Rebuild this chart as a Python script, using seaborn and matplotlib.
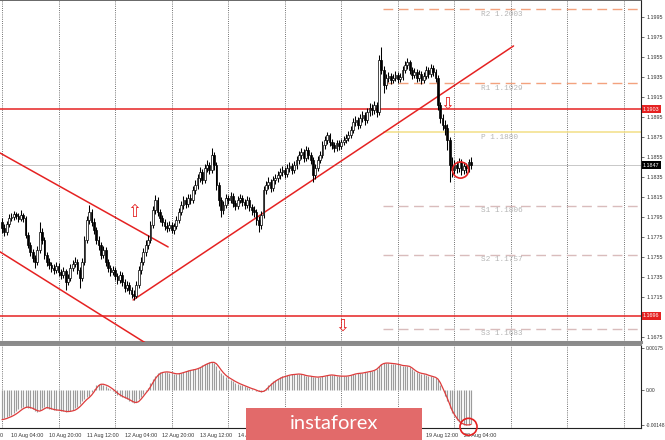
"""
EUR/USD H1 chart with pivot levels and MACD panel
"""
import numpy as np
import pandas as pd
import matplotlib
matplotlib.use("Agg")
import matplotlib.pyplot as plt
from matplotlib.patches import Rectangle
import seaborn as sns

# ---- price data (H1 bars) ----
first_open = 1.1790
closes = [
    1.1784, 1.1780, 1.1788, 1.1794, 1.1795, 1.1798, 1.1796, 1.1793, 1.1797, 1.1794,
    1.1777, 1.1767, 1.1760, 1.1754, 1.1750, 1.1762, 1.1780, 1.1772, 1.1757, 1.1750,
    1.1747, 1.1744, 1.1742, 1.1746, 1.1740, 1.1737, 1.1741, 1.1730, 1.1734, 1.1744,
    1.1748, 1.1750, 1.1742, 1.1734, 1.1750, 1.1772, 1.1792, 1.1800, 1.1790, 1.1782,
    1.1772, 1.1767, 1.1757, 1.1762, 1.1750, 1.1744, 1.1740, 1.1742, 1.1736, 1.1732,
    1.1737, 1.1730, 1.1724, 1.1727, 1.1722, 1.1718, 1.1716, 1.1727, 1.1742, 1.1750,
    1.1760, 1.1767, 1.1772, 1.1787, 1.1802, 1.1812, 1.1800, 1.1794, 1.1790, 1.1786,
    1.1784, 1.1787, 1.1782, 1.1786, 1.1792, 1.1800, 1.1807, 1.1812, 1.1808, 1.1814,
    1.1812, 1.1822, 1.1827, 1.1834, 1.1840, 1.1832, 1.1844, 1.1847, 1.1842, 1.1857,
    1.1847, 1.1827, 1.1812, 1.1802, 1.1807, 1.1814, 1.1812, 1.1816, 1.1809, 1.1806,
    1.1812, 1.1814, 1.1810, 1.1807, 1.1812, 1.1805, 1.1802, 1.1800, 1.1792, 1.1787,
    1.1797, 1.1822, 1.1827, 1.1830, 1.1824, 1.1832, 1.1834, 1.1837, 1.1840, 1.1842,
    1.1838, 1.1844, 1.1846, 1.1842, 1.1847, 1.1852, 1.1857, 1.1860, 1.1854, 1.1862,
    1.1857, 1.1852, 1.1837, 1.1844, 1.1852, 1.1857, 1.1867, 1.1872, 1.1877, 1.1870,
    1.1867, 1.1864, 1.1869, 1.1866, 1.1870, 1.1872, 1.1874, 1.1877, 1.1882, 1.1890,
    1.1892, 1.1887, 1.1894, 1.1897, 1.1892, 1.1900, 1.1904, 1.1902, 1.1907, 1.1900,
    1.1952, 1.1942, 1.1927, 1.1934, 1.1936, 1.1932, 1.1934, 1.1937, 1.1933, 1.1935,
    1.1942, 1.1947, 1.1950, 1.1942, 1.1937, 1.1940, 1.1934, 1.1938, 1.1932, 1.1936,
    1.1942, 1.1938, 1.1944, 1.1940, 1.1934, 1.1907, 1.1894, 1.1887, 1.1884, 1.1872,
    1.1847, 1.1842, 1.1847, 1.1844, 1.1850, 1.1842, 1.1846, 1.1844, 1.1850, 1.1847,
]
highs = [
    1.1794, 1.1788, 1.1791, 1.1798, 1.1799, 1.1801, 1.1800, 1.1799, 1.1802, 1.1799,
    1.1796, 1.1780, 1.1770, 1.1763, 1.1757, 1.1766, 1.1790, 1.1784, 1.1775, 1.1760,
    1.1754, 1.1750, 1.1748, 1.1750, 1.1749, 1.1743, 1.1745, 1.1743, 1.1738, 1.1748,
    1.1752, 1.1755, 1.1753, 1.1745, 1.1754, 1.1776, 1.1796, 1.1807, 1.1803, 1.1794,
    1.1785, 1.1776, 1.1770, 1.1766, 1.1765, 1.1753, 1.1747, 1.1746, 1.1745, 1.1739,
    1.1741, 1.1740, 1.1733, 1.1731, 1.1730, 1.1725, 1.1722, 1.1731, 1.1746, 1.1755,
    1.1764, 1.1772, 1.1777, 1.1791, 1.1806, 1.1817, 1.1815, 1.1803, 1.1797, 1.1793,
    1.1790, 1.1791, 1.1790, 1.1789, 1.1796, 1.1804, 1.1811, 1.1816, 1.1815, 1.1818,
    1.1818, 1.1826, 1.1832, 1.1838, 1.1845, 1.1843, 1.1848, 1.1852, 1.1850, 1.1864,
    1.1860, 1.1850, 1.1830, 1.1815, 1.1811, 1.1818, 1.1817, 1.1820, 1.1819, 1.1812,
    1.1816, 1.1818, 1.1817, 1.1813, 1.1816, 1.1815, 1.1808, 1.1806, 1.1803, 1.1796,
    1.1801, 1.1826, 1.1831, 1.1835, 1.1833, 1.1836, 1.1838, 1.1841, 1.1844, 1.1846,
    1.1845, 1.1848, 1.1850, 1.1849, 1.1851, 1.1856, 1.1861, 1.1864, 1.1863, 1.1866,
    1.1865, 1.1860, 1.1855, 1.1848, 1.1856, 1.1861, 1.1871, 1.1876, 1.1880, 1.1879,
    1.1873, 1.1870, 1.1872, 1.1872, 1.1873, 1.1876, 1.1878, 1.1881, 1.1886, 1.1894,
    1.1896, 1.1895, 1.1898, 1.1901, 1.1900, 1.1904, 1.1909, 1.1908, 1.1911, 1.1910,
    1.1957, 1.1965, 1.1946, 1.1938, 1.1940, 1.1939, 1.1938, 1.1941, 1.1940, 1.1939,
    1.1946, 1.1951, 1.1954, 1.1952, 1.1945, 1.1944, 1.1943, 1.1942, 1.1941, 1.1940,
    1.1946, 1.1945, 1.1948, 1.1947, 1.1943, 1.1937, 1.1910, 1.1898, 1.1892, 1.1888,
    1.1875, 1.1855, 1.1852, 1.1851, 1.1854, 1.1853, 1.1850, 1.1849, 1.1853, 1.1855,
]
lows = [
    1.1779, 1.1776, 1.1777, 1.1785, 1.1791, 1.1792, 1.1793, 1.1790, 1.1791, 1.1790,
    1.1774, 1.1764, 1.1756, 1.1750, 1.1744, 1.1747, 1.1759, 1.1768, 1.1753, 1.1746,
    1.1743, 1.1740, 1.1738, 1.1739, 1.1736, 1.1733, 1.1734, 1.1722, 1.1727, 1.1731,
    1.1741, 1.1745, 1.1738, 1.1724, 1.1731, 1.1747, 1.1769, 1.1788, 1.1786, 1.1778,
    1.1768, 1.1762, 1.1753, 1.1754, 1.1746, 1.1740, 1.1736, 1.1737, 1.1732, 1.1728,
    1.1729, 1.1726, 1.1720, 1.1721, 1.1718, 1.1714, 1.1712, 1.1714, 1.1724, 1.1738,
    1.1747, 1.1756, 1.1763, 1.1769, 1.1784, 1.1798, 1.1796, 1.1790, 1.1786, 1.1782,
    1.1780, 1.1781, 1.1779, 1.1778, 1.1783, 1.1789, 1.1797, 1.1803, 1.1804, 1.1805,
    1.1808, 1.1809, 1.1818, 1.1823, 1.1830, 1.1828, 1.1829, 1.1840, 1.1838, 1.1839,
    1.1842, 1.1822, 1.1806, 1.1795, 1.1798, 1.1804, 1.1808, 1.1809, 1.1805, 1.1802,
    1.1803, 1.1809, 1.1806, 1.1803, 1.1804, 1.1801, 1.1797, 1.1795, 1.1787, 1.1780,
    1.1783, 1.1794, 1.1818, 1.1823, 1.1820, 1.1821, 1.1828, 1.1830, 1.1833, 1.1836,
    1.1834, 1.1835, 1.1840, 1.1838, 1.1839, 1.1843, 1.1848, 1.1853, 1.1850, 1.1851,
    1.1853, 1.1848, 1.1830, 1.1833, 1.1841, 1.1849, 1.1854, 1.1863, 1.1868, 1.1866,
    1.1863, 1.1860, 1.1861, 1.1862, 1.1863, 1.1867, 1.1869, 1.1871, 1.1874, 1.1879,
    1.1886, 1.1883, 1.1884, 1.1890, 1.1887, 1.1889, 1.1896, 1.1897, 1.1898, 1.1895,
    1.1897, 1.1938, 1.1919, 1.1923, 1.1930, 1.1928, 1.1929, 1.1931, 1.1929, 1.1930,
    1.1932, 1.1939, 1.1943, 1.1938, 1.1933, 1.1934, 1.1930, 1.1931, 1.1928, 1.1929,
    1.1933, 1.1934, 1.1935, 1.1936, 1.1930, 1.1902, 1.1889, 1.1882, 1.1877, 1.1862,
    1.1830, 1.1835, 1.1838, 1.1839, 1.1840, 1.1837, 1.1838, 1.1839, 1.1840, 1.1843,
]

# ---- MACD (main histogram + signal line) ----
macd_hist = [
    -0.00122, -0.00118, -0.00114, -0.00110, -0.00105, -0.00098, -0.00090, -0.00082, -0.00075, -0.00070,
    -0.00072, -0.00075, -0.00076, -0.00082, -0.00088, -0.00092, -0.00086, -0.00078, -0.00071, -0.00075,
    -0.00079, -0.00082, -0.00084, -0.00084, -0.00086, -0.00088, -0.00090, -0.00091, -0.00090, -0.00087,
    -0.00084, -0.00078, -0.00070, -0.00059, -0.00048, -0.00038, -0.00030, -0.00025, -0.00010, 0.00005,
    0.00020, 0.00026, 0.00024, 0.00020, 0.00017, 0.00010, 0.00004, -0.00003, -0.00013, -0.00020,
    -0.00026, -0.00030, -0.00034, -0.00039, -0.00045, -0.00050, -0.00055, -0.00050, -0.00040, -0.00028,
    -0.00015, -0.00005, 0.00010, 0.00029, 0.00045, 0.00060, 0.00071, 0.00074, 0.00076, 0.00076,
    0.00076, 0.00073, 0.00070, 0.00068, 0.00067, 0.00070, 0.00073, 0.00076, 0.00080, 0.00082,
    0.00084, 0.00086, 0.00088, 0.00092, 0.00098, 0.00103, 0.00109, 0.00113, 0.00116, 0.00118,
    0.00115, 0.00100, 0.00085, 0.00071, 0.00062, 0.00054, 0.00047, 0.00042, 0.00036, 0.00030,
    0.00026, 0.00022, 0.00019, 0.00015, 0.00011, 0.00007, 0.00004, 0.00001, -0.00003, -0.00006,
    -0.00007, -0.00003, 0.00008, 0.00019, 0.00028, 0.00036, 0.00042, 0.00048, 0.00053, 0.00057,
    0.00059, 0.00062, 0.00064, 0.00065, 0.00066, 0.00067, 0.00067, 0.00065, 0.00062, 0.00059,
    0.00058, 0.00057, 0.00055, 0.00054, 0.00055, 0.00056, 0.00058, 0.00060, 0.00062, 0.00063,
    0.00063, 0.00061, 0.00059, 0.00059, 0.00058, 0.00058, 0.00059, 0.00060, 0.00063, 0.00066,
    0.00069, 0.00070, 0.00071, 0.00072, 0.00074, 0.00076, 0.00078, 0.00080, 0.00084, 0.00090,
    0.00102, 0.00111, 0.00113, 0.00113, 0.00112, 0.00111, 0.00110, 0.00109, 0.00107, 0.00104,
    0.00102, 0.00101, 0.00100, 0.00096, 0.00088, 0.00080, 0.00075, 0.00071, 0.00069, 0.00067,
    0.00064, 0.00060, 0.00057, 0.00055, 0.00051, 0.00040, 0.00020, 0.00000, -0.00025, -0.00045,
    -0.00075, -0.00095, -0.00110, -0.00125, -0.00135, -0.00142, -0.00146, -0.00148, -0.00146, -0.00143,
]
macd_signal = [
    -0.00125, -0.00123, -0.00120, -0.00116, -0.00112, -0.00107, -0.00101, -0.00094, -0.00086, -0.00079,
    -0.00074, -0.00072, -0.00074, -0.00077, -0.00082, -0.00087, -0.00089, -0.00085, -0.00079, -0.00074,
    -0.00076, -0.00079, -0.00082, -0.00084, -0.00085, -0.00086, -0.00088, -0.00090, -0.00091, -0.00090,
    -0.00088, -0.00085, -0.00079, -0.00071, -0.00061, -0.00050, -0.00040, -0.00032, -0.00022, -0.00009,
    0.00006, 0.00018, 0.00024, 0.00024, 0.00021, 0.00017, 0.00011, 0.00004, -0.00004, -0.00013,
    -0.00020, -0.00026, -0.00031, -0.00035, -0.00040, -0.00046, -0.00051, -0.00053, -0.00049, -0.00039,
    -0.00027, -0.00014, -0.00002, 0.00013, 0.00030, 0.00046, 0.00059, 0.00068, 0.00073, 0.00075,
    0.00076, 0.00075, 0.00073, 0.00070, 0.00068, 0.00068, 0.00070, 0.00073, 0.00076, 0.00079,
    0.00082, 0.00084, 0.00086, 0.00089, 0.00093, 0.00098, 0.00104, 0.00109, 0.00113, 0.00116,
    0.00116, 0.00110, 0.00098, 0.00084, 0.00072, 0.00062, 0.00054, 0.00048, 0.00042, 0.00036,
    0.00031, 0.00026, 0.00022, 0.00018, 0.00014, 0.00010, 0.00006, 0.00003, -0.00001, -0.00005,
    -0.00007, -0.00006, 0.00000, 0.00010, 0.00020, 0.00029, 0.00036, 0.00043, 0.00048, 0.00053,
    0.00056, 0.00059, 0.00062, 0.00064, 0.00065, 0.00066, 0.00067, 0.00066, 0.00064, 0.00061,
    0.00059, 0.00058, 0.00056, 0.00055, 0.00054, 0.00055, 0.00056, 0.00058, 0.00060, 0.00062,
    0.00063, 0.00062, 0.00060, 0.00059, 0.00058, 0.00058, 0.00058, 0.00059, 0.00061, 0.00064,
    0.00067, 0.00069, 0.00070, 0.00071, 0.00073, 0.00075, 0.00077, 0.00079, 0.00082, 0.00087,
    0.00096, 0.00106, 0.00111, 0.00113, 0.00113, 0.00112, 0.00111, 0.00110, 0.00108, 0.00106,
    0.00103, 0.00102, 0.00101, 0.00099, 0.00093, 0.00085, 0.00078, 0.00073, 0.00070, 0.00068,
    0.00066, 0.00062, 0.00059, 0.00056, 0.00053, 0.00046, 0.00031, 0.00010, -0.00012, -0.00035,
    -0.00060, -0.00085, -0.00103, -0.00118, -0.00130, -0.00139, -0.00144, -0.00147, -0.00147, -0.00145,
]

# time axis labels (bar index of each label) and day separators
time_label_bars = [4, 20, 36, 52, 68, 84, 100, 116, 132, 148, 164, 180, 196]
time_labels = ["10 Aug 04:00", "10 Aug 20:00", "11 Aug 12:00", "12 Aug 04:00",
               "12 Aug 20:00", "13 Aug 12:00", "14 Aug 04:00", "14 Aug 20:00", "17 Aug 12:00",
               "18 Aug 04:00", "18 Aug 20:00", "19 Aug 12:00", "20 Aug 04:00"]
cut_label_bar, cut_label = -12, "7 Aug 12:00"
day_start_bars = [0, 24, 48, 72, 96, 120, 144, 168, 192, 216, 240, 264]

# levels
pivot_names = ["R2", "R1", "P", "S1", "S2", "S3"]
pivot_values = [1.2003, 1.1929, 1.1880, 1.1806, 1.1757, 1.1683]
red_levels = [1.1903, 1.1696]
last_price = 1.1847
price_ticks = [1.1995, 1.1975, 1.1955, 1.1935, 1.1915, 1.1895, 1.1875, 1.1855, 1.1835,
               1.1815, 1.1795, 1.1775, 1.1755, 1.1735, 1.1715, 1.1675]

# hand-drawn trend lines: (bar, price) end points
trend_lines = [
    [(-0.85, 1.18591), (70.5, 1.17650)],   # upper channel
    [(-0.85, 1.17601), (75.0, 1.16480)],   # lower channel
    [(55.65, 1.17119), (217.1, 1.19663)],  # rising support
]

sns.set_theme(style="white")
plt.rcParams["font.family"] = ["Liberation Sans", "DejaVu Sans"]

df = pd.DataFrame({"close": closes, "high": highs, "low": lows})
df["open"] = df["close"].shift(1).fillna(first_open)
df["bar"] = np.arange(len(df))
up = df["close"] >= df["open"]

fig = plt.figure(figsize=(6.65, 4.4), dpi=100)
ax = fig.add_axes([0, 98 / 440, 641 / 665, 342 / 440])
ax2 = fig.add_axes([0, 12 / 440, 641 / 665, 83 / 440])

XMIN, XMAX = -0.85, 271.2
for a in (ax, ax2):
    a.set_facecolor("white")
    for b in day_start_bars:
        a.axvline(b, color="#444444", lw=0.6, ls=(0, (1, 1.6)), zorder=1)

# pivot lines
ax.hlines(pivot_values[:2], 161.5, XMAX, colors="#f3a27e", lw=1.0, ls=(0, (7, 4)), zorder=2)
ax.hlines(pivot_values[2], 161.5, XMAX, colors="#f2df86", lw=1.1, zorder=2)
ax.hlines(pivot_values[3:], 161.5, XMAX, colors="#d9bcbc", lw=1.0, ls=(0, (7, 4)), zorder=2)
for name, val in zip(pivot_names, pivot_values):
    ax.text(203.5, val - 0.0005, f"{name} {val:.4f}", family="Liberation Mono",
            fontsize=5.6, color="#b5b5b5", va="center", ha="left", zorder=2)

# last price + red levels
ax.axhline(last_price, color="#c8c8c8", lw=0.7, zorder=2)
for lvl in red_levels:
    ax.axhline(lvl, color="#e52222", lw=1.1, zorder=3)
for (x0, y0), (x1, y1) in trend_lines:
    ax.plot([x0, x1], [y0, y1], color="#e52222", lw=1.1, zorder=3)

# candles
ax.vlines(df["bar"], df["low"], df["high"], color="black", lw=0.75, zorder=4)
body = (df["close"] - df["open"]).abs().clip(lower=0.00005)
ax.bar(df["bar"], body, bottom=df[["open", "close"]].min(axis=1), width=0.75,
       color=np.where(up, "white", "black"), edgecolor="black", linewidth=0.5, zorder=5)

# arrows and circle
arrow_kw = dict(color="#e52222", fontsize=12, ha="center", va="center",
                family="DejaVu Sans", zorder=6)
ax.text(56.1, 1.1800, "\u21e7", **arrow_kw)
ax.text(189.0, 1.19083, "\u21e9", **arrow_kw)
ax.text(144.4, 1.16859, "\u21e9", **arrow_kw)
ax.scatter([194.6], [1.1842], s=135, facecolors="none", edgecolors="#e52222", lw=1.2, zorder=6)

# right price axis
ax.yaxis.tick_right()
ax.set_yticks(price_ticks)
ax.set_yticklabels([f"{t:.4f}" for t in price_ticks])
ax.tick_params(axis="y", labelsize=3.9, length=2, width=0.5, pad=2, colors="#333333",
               labelcolor="#333333")
ax.set_xticks([])
box_kw = dict(fontsize=3.9, ha="left", va="center", transform=ax.get_yaxis_transform(),
              clip_on=False, zorder=10)
for lvl in red_levels:
    ax.text(1.003, lvl, f"{lvl:.4f}", color="white",
            bbox=dict(boxstyle="square,pad=0.25", fc="#e52222", ec="none"), **box_kw)
ax.text(1.003, last_price, f"{last_price:.4f}", color="white",
        bbox=dict(boxstyle="square,pad=0.25", fc="black", ec="none"), **box_kw)

ax.spines["left"].set_visible(False)
ax2.spines["left"].set_visible(False)
ax.spines["right"].set_color("#222222")
ax.spines["right"].set_linewidth(0.8)
ax.spines["top"].set_color("#555555")
ax.spines["bottom"].set_color("#8a8a8a")
ax.spines["bottom"].set_linewidth(2.2)
ax2.spines["top"].set_color("#8a8a8a")
ax2.spines["top"].set_linewidth(1.4)
ax2.spines["right"].set_color("#222222")
ax2.spines["right"].set_linewidth(0.8)
ax2.spines["bottom"].set_color("#222222")
ax2.spines["bottom"].set_linewidth(0.8)

# MACD panel
ax2.vlines(df["bar"], 0, macd_hist, color="#9c9c9c", lw=0.85, zorder=2)
sns.lineplot(x=df["bar"], y=macd_signal, ax=ax2, color="#de3c3c", lw=0.9, zorder=3)
ax2.scatter([198.0], [-0.00155], s=150, facecolors="none", edgecolors="#e52222", lw=1.2,
            zorder=6, clip_on=False)
ax2.yaxis.tick_right()
ax2.set_yticks([0.00175, 0.0, -0.00148])
ax2.set_yticklabels(["0.00175", "0.00", "-0.00148"])
ax2.tick_params(axis="y", labelsize=3.5, length=2, width=0.5, pad=1.5, colors="#333333")
ax2.set_xticks(time_label_bars)
ax2.set_xticklabels(time_labels, ha="left")
ax2.tick_params(axis="x", labelsize=3.9, length=2, width=0.5, pad=1.5, colors="#333333")
ax2.text(cut_label_bar, -0.06, cut_label, fontsize=3.9, color="#333333", ha="left", va="top",
         transform=ax2.get_xaxis_transform(), clip_on=False)
ax2.set_xlabel("")
ax2.set_ylabel("")

# limits last, so no tick call can widen them
for a in (ax, ax2):
    a.set_xlim(XMIN, XMAX)
ax.set_ylim(1.16698, 1.20123)
ax2.set_ylim(-0.0016, 0.00189)

# watermark
fig.patches.append(Rectangle((246 / 665, 0), 176 / 665, 32 / 440, transform=fig.transFigure,
                             facecolor="#e26a6a", edgecolor="none", zorder=20))
fig.text(334 / 665, 17 / 440, "instaforex", color="white", fontsize=14.5, family="Lato",
         ha="center", va="center", zorder=21)

fig.savefig("out.png", dpi=100, facecolor="white")
